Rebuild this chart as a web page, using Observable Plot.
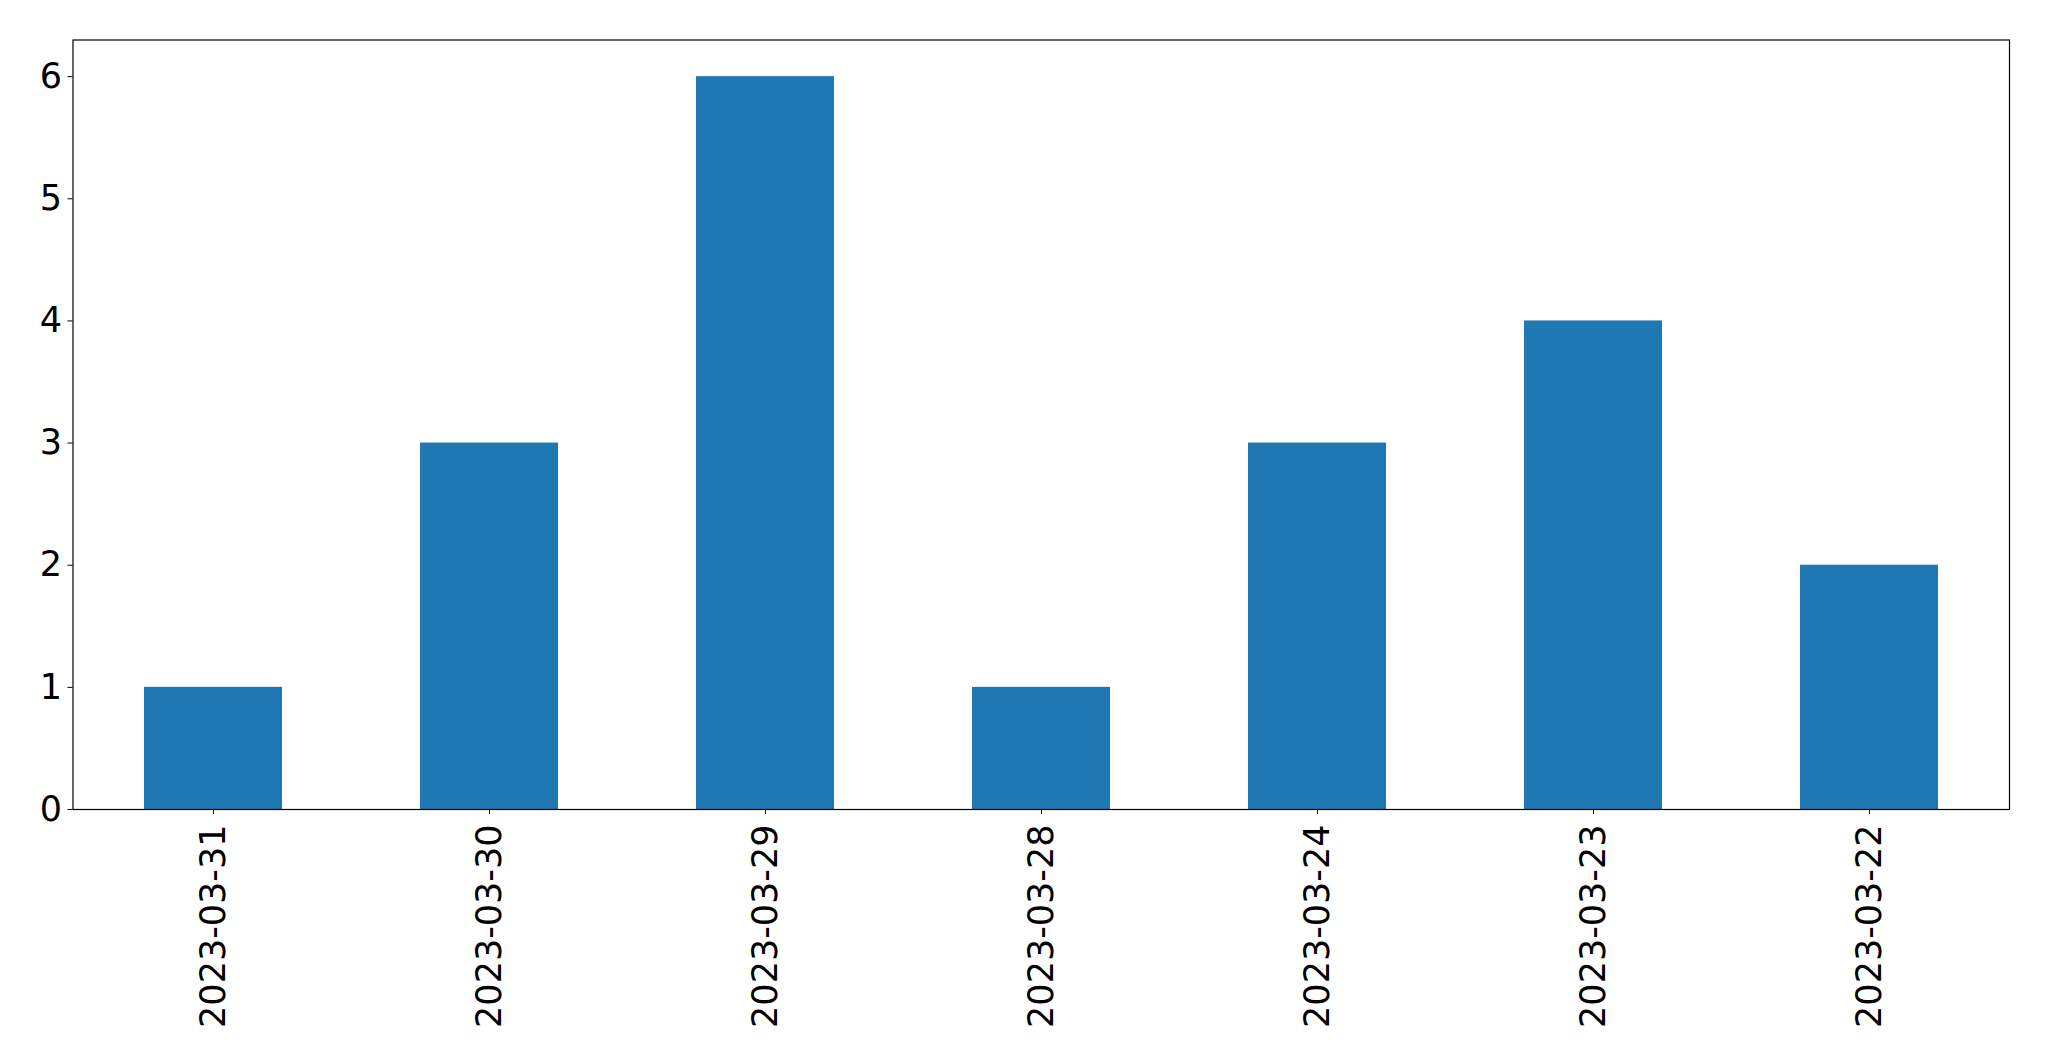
<!DOCTYPE html>
<html>
<head>
<meta charset="utf-8">
<script src="https://cdn.jsdelivr.net/npm/d3@7"></script>
<script src="https://cdn.jsdelivr.net/npm/@observablehq/plot@0.6"></script>
<style>
  html, body { margin: 0; padding: 0; background: #fff; }
  #chart svg { display: block; }
</style>
</head>
<body>
<div id="chart"></div>
<script>
const dates = ["2023-03-31", "2023-03-30", "2023-03-29", "2023-03-28", "2023-03-24", "2023-03-23", "2023-03-22"];
const counts = [1, 3, 6, 1, 3, 4, 2];
const yTicks = [0, 1, 2, 3, 4, 5, 6];

const data = dates.map((d, i) => ({date: d, count: counts[i]}));

const chart = Plot.plot({
  width: 2049,
  height: 1061,
  marginLeft: 72.5,
  marginTop: 39.5,
  marginRight: 40,
  marginBottom: 252,
  style: {fontFamily: "DejaVu Sans", fontSize: "35px", color: "#000", background: "#fff"},
  x: {domain: dates, paddingInner: 0.5, paddingOuter: 0.25, label: null},
  y: {domain: [0, 6.3], label: null},
  marks: [
    Plot.barY(data, {x: "date", y: "count", fill: "#1f77b4"}),
    Plot.axisY({ticks: yTicks, tickFormat: d => String(d), tickSize: 5, tickPadding: 6, fontSize: 35, label: null, stroke: "#000", color: "#000"}),
    Plot.axisX({tickSize: 5, tickRotate: -90, tickPadding: 10, fontSize: 35, label: null, stroke: "#000", color: "#000"}),
    Plot.frame({stroke: "#000", strokeWidth: 1.2})
  ]
});
document.getElementById("chart").appendChild(chart);
</script>
</body>
</html>
